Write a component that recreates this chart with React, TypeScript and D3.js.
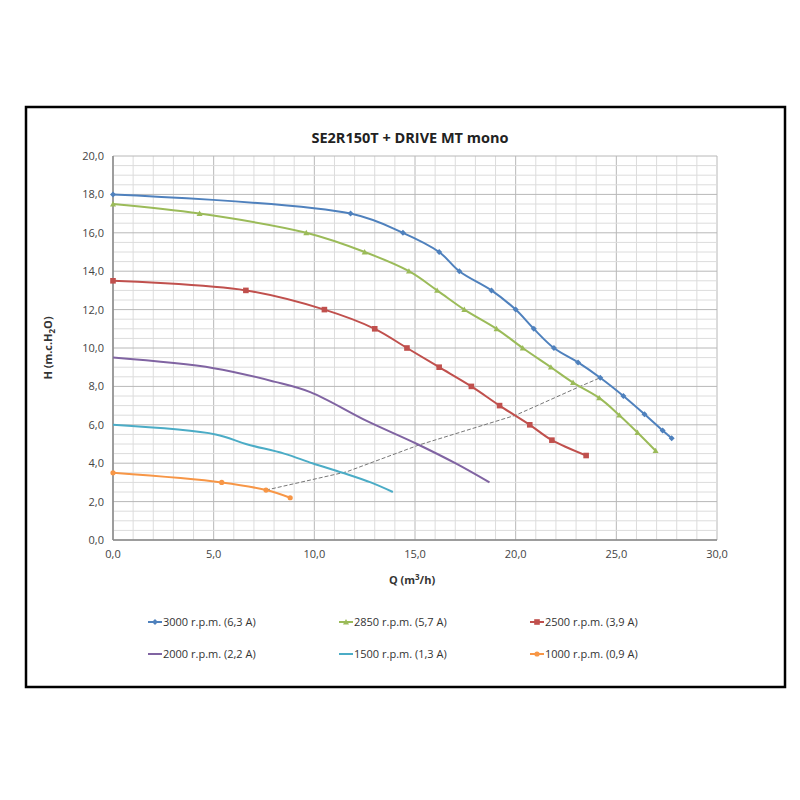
import React from "react";
import * as d3 from "d3";

const titleText = "SE2R150T + DRIVE MT mono";
const xTicks = [0, 5, 10, 15, 20, 25, 30];
const yTicks = [0, 2, 4, 6, 8, 10, 12, 14, 16, 18, 20];

const seriesNames = [
  "3000 r.p.m. (6,3 A)",
  "2850 r.p.m. (5,7 A)",
  "2500 r.p.m. (3,9 A)",
  "2000 r.p.m. (2,2 A)",
  "1500 r.p.m. (1,3 A)",
  "1000 r.p.m. (0,9 A)",
];
const seriesColors = ["#4F81BD", "#9BBB59", "#C0504D", "#8064A2", "#4BACC6", "#F79646"];
const seriesMarkers = ["diamond", "triangle", "square", "none", "none", "circle"];

const q3000 = [0, 11.8, 14.4, 16.2, 17.2, 18.8, 20.0, 20.9, 21.9, 23.1, 24.2, 25.35, 26.4, 27.3, 27.75];
const h3000 = [18.0, 17.0, 16.0, 15.0, 14.0, 13.0, 12.0, 11.0, 10.0, 9.25, 8.45, 7.5, 6.55, 5.7, 5.3];

const q2850 = [0, 4.3, 9.6, 12.5, 14.7, 16.1, 17.45, 19.05, 20.35, 21.75, 22.85, 24.15, 25.15, 26.05, 26.95];
const h2850 = [17.5, 17.0, 16.0, 15.0, 14.0, 13.0, 12.0, 11.0, 10.0, 9.0, 8.2, 7.4, 6.5, 5.6, 4.65];

const q2500 = [0, 6.6, 10.5, 13.0, 14.6, 16.2, 17.8, 19.2, 20.7, 21.8, 23.5];
const h2500 = [13.5, 13.0, 12.0, 11.0, 10.0, 9.0, 8.0, 7.0, 6.0, 5.2, 4.4];

const q2000 = [0, 5.0, 8.0, 9.8, 12.6, 15.1, 17.0, 18.7];
const h2000 = [9.5, 8.95, 8.25, 7.7, 6.2, 5.0, 4.0, 3.0];

const q1500 = [0, 5.1, 6.6, 8.5, 9.9, 11.4, 12.8, 13.9];
const h1500 = [6.0, 5.5, 5.0, 4.5, 4.0, 3.5, 3.0, 2.5];

const q1000 = [0, 5.4, 7.6, 8.8];
const h1000 = [3.5, 3.0, 2.6, 2.2];

const qSystem = [7.6, 11.6, 15.2, 20.0, 23.2, 24.2];
const hSystem = [2.6, 3.55, 4.95, 6.5, 8.0, 8.45];

const seriesQ = [q3000, q2850, q2500, q2000, q1500, q1000];
const seriesH = [h3000, h2850, h2500, h2000, h1500, h1000];

const FONT = "'Open Sans', 'Liberation Sans', sans-serif";

function Marker({ type, x, y, color }: { type: string; x: number; y: number; color: string }) {
  if (type === "diamond") {
    const s = 3;
    return <path d={`M${x},${y - s}L${x + s},${y}L${x},${y + s}L${x - s},${y}Z`} fill={color} />;
  }
  if (type === "triangle") {
    const s = 3;
    return <path d={`M${x},${y - s}L${x + s},${y + s * 0.8}L${x - s},${y + s * 0.8}Z`} fill={color} />;
  }
  if (type === "square") {
    const s = 2.8;
    return <rect x={x - s} y={y - s} width={s * 2} height={s * 2} fill={color} />;
  }
  if (type === "circle") {
    return <circle cx={x} cy={y} r={2.6} fill={color} />;
  }
  return null;
}

export default function App() {
  const x = d3.scaleLinear().domain([0, 30]).range([113, 717]);
  const y = d3.scaleLinear().domain([0, 20]).range([540, 156]);

  const line = d3
    .line<[number, number]>()
    .x((d) => x(d[0]))
    .y((d) => y(d[1]))
    .curve(d3.curveCatmullRom.alpha(0.5));

  const sysLine = d3
    .line<[number, number]>()
    .x((d) => x(d[0]))
    .y((d) => y(d[1]))
    .curve(d3.curveLinear);

  const minorX = d3.range(0, 31, 1);
  const minorY = d3.range(0, 20.01, 0.5);

  const legendCols = [148, 339, 530];
  const legendRows = [622, 654];

  return (
    <svg
      width={800}
      height={800}
      style={{ position: "absolute", left: 0, top: 0, background: "#fff" }}
      fontFamily={FONT}
    >
      <rect x={0} y={0} width={800} height={800} fill="#fff" />
      <rect x={26} y={107} width={759} height={580} fill="#fff" stroke="#000" strokeWidth={2.5} />

      <text x={410} y={143} textAnchor="middle" fontSize={14.5} fontWeight="bold" fill="#222">
        {titleText}
      </text>

      {minorX.map((v) => (
        <line key={"mx" + v} x1={x(v)} x2={x(v)} y1={y(0)} y2={y(20)} stroke={v % 5 === 0 ? "#b8b8b8" : "#dcdcdc"} strokeWidth={1} />
      ))}
      {minorY.map((v) => (
        <line key={"my" + v} x1={x(0)} x2={x(30)} y1={y(v)} y2={y(v)} stroke={Math.abs(v % 2) < 1e-6 ? "#b8b8b8" : "#dcdcdc"} strokeWidth={1} />
      ))}

      <line x1={x(0)} x2={x(0)} y1={y(0)} y2={y(20)} stroke="#888" strokeWidth={1.5} />
      <line x1={x(0)} x2={x(30)} y1={y(0)} y2={y(0)} stroke="#888" strokeWidth={1.5} />

      {yTicks.map((v) => (
        <text key={"yt" + v} x={104} y={y(v) + 4} textAnchor="end" fontSize={11} fill="#444">
          {d3.format(".1f")(v).replace(".", ",")}
        </text>
      ))}
      {xTicks.map((v) => (
        <text key={"xt" + v} x={x(v)} y={558} textAnchor="middle" fontSize={11} fill="#444">
          {d3.format(".1f")(v).replace(".", ",")}
        </text>
      ))}

      <text x={412} y={584} textAnchor="middle" fontSize={11} fontWeight="bold" fill="#333">
        Q (m<tspan fontSize={8} dy={-4}>3</tspan><tspan dy={4}>/h)</tspan>
      </text>
      <text transform={`translate(52,${348}) rotate(-90)`} textAnchor="middle" fontSize={11} fontWeight="bold" fill="#333">
        H (m.c.H<tspan fontSize={8} dy={3}>2</tspan><tspan dy={-3}>O)</tspan>
      </text>

      <path
        d={sysLine(qSystem.map((q, i) => [q, hSystem[i]] as [number, number])) || ""}
        fill="none"
        stroke="#777"
        strokeWidth={1}
        strokeDasharray="4,2"
      />

      {seriesQ.map((qs, si) => {
        const pts = qs.map((q, i) => [q, seriesH[si][i]] as [number, number]);
        return (
          <g key={"s" + si}>
            <path d={line(pts) || ""} fill="none" stroke={seriesColors[si]} strokeWidth={2} />
            {pts.map((p, i) => (
              <Marker key={i} type={seriesMarkers[si]} x={x(p[0])} y={y(p[1])} color={seriesColors[si]} />
            ))}
          </g>
        );
      })}

      {seriesNames.map((name, i) => {
        const cx = legendCols[i % 3];
        const cy = legendRows[Math.floor(i / 3)];
        return (
          <g key={"lg" + i}>
            <line x1={cx} x2={cx + 14} y1={cy} y2={cy} stroke={seriesColors[i]} strokeWidth={2} />
            <Marker type={seriesMarkers[i]} x={cx + 7} y={cy} color={seriesColors[i]} />
            <text x={cx + 15} y={cy + 4} fontSize={11} fill="#333">
              {name}
            </text>
          </g>
        );
      })}
    </svg>
  );
}
